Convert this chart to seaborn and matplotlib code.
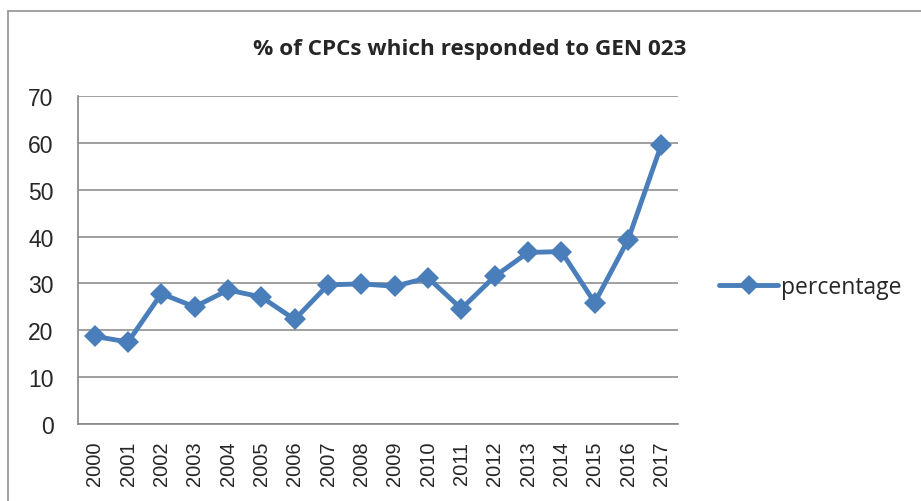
import numpy as np
import pandas as pd
import matplotlib
matplotlib.use("Agg")
import matplotlib.pyplot as plt
import seaborn as sns
from matplotlib.lines import Line2D

# data
years = [str(y) for y in range(2000, 2018)]
percentage = [18.7, 17.5, 27.8, 25.0, 28.6, 27.1, 22.3, 29.7, 29.9,
              29.4, 31.2, 24.6, 31.5, 36.6, 36.8, 25.9, 39.3, 59.6]
y_ticks = [0, 10, 20, 30, 40, 50, 60, 70]
title = "% of CPCs which responded to GEN 023"

df = pd.DataFrame({"year": years, "percentage": percentage})

sns.set_style("white")
plt.rcParams["font.family"] = ["Liberation Sans", "DejaVu Sans"]

blue = "#4a7ebb"
grey = "#868686"

fig = plt.figure(figsize=(9.21, 5.02), dpi=100)
ax = fig.add_axes([0.0847, 0.1534, 0.6515, 0.6534])

sns.lineplot(data=df, x="year", y="percentage", ax=ax, color=blue,
             linewidth=3.5, marker="D", markersize=11, markeredgewidth=0,
             label="percentage", sort=False)

ax.set_xlim(-0.5, len(years) - 0.5)
ax.set_ylim(0, 70)
ax.set_yticks(y_ticks)
ax.set_yticklabels([str(t) for t in y_ticks], fontsize=16.5)
ax.set_xticks(range(len(years)))
ax.set_xticklabels(years, rotation=90, fontsize=14.5)
ax.set_xticks(np.arange(-0.5, len(years)), minor=True)
ax.tick_params(axis="x", which="major", length=0, pad=12)
ax.tick_params(axis="x", which="minor", length=5.5, color=grey, width=1.2)
ax.tick_params(axis="y", length=5.5, color=grey, width=1.2, pad=12)
ax.set_xlabel("")
ax.set_ylabel("")

ax.yaxis.grid(True, color=grey, linewidth=1.1)
ax.set_axisbelow(True)
for side in ["top", "right"]:
    ax.spines[side].set_visible(False)
for side in ["left", "bottom"]:
    ax.spines[side].set_color(grey)
    ax.spines[side].set_linewidth(1.2)

handle = Line2D([], [], color=blue, linewidth=3.5, marker="D",
                markersize=10, markeredgewidth=0)
ax.legend([handle], ["percentage"], loc="center left",
          bbox_to_anchor=(1.068, 0.418), frameon=False,
          prop={"family": ["Open Sans", "DejaVu Sans"], "size": 16.5},
          handlelength=2.6, handletextpad=0.12, borderaxespad=0, borderpad=0)

fig.text(0.510, 0.901, title, ha="center", va="center", fontsize=16.2,
         fontweight="bold", family=["Open Sans", "DejaVu Sans"])

# outer frame of the chart (left and top edges visible)
fig.add_artist(Line2D([0.009, 0.009], [0, 0.976], transform=fig.transFigure,
                      color="#9a9a9a", linewidth=1.3))
fig.add_artist(Line2D([0.009, 1.0], [0.976, 0.976], transform=fig.transFigure,
                      color="#9a9a9a", linewidth=1.3))

fig.savefig("out.png", dpi=100)
